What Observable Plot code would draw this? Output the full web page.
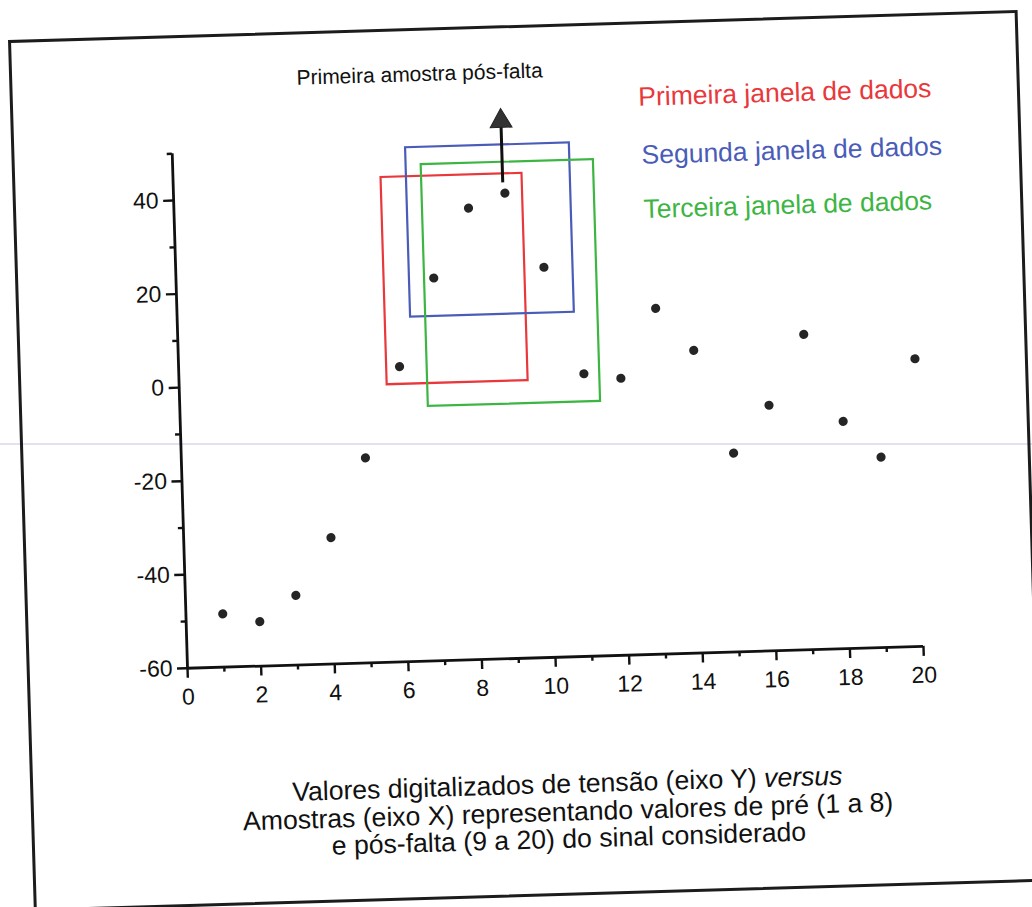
<!DOCTYPE html>
<html>
<head>
<meta charset="utf-8">
<script src="https://cdn.jsdelivr.net/npm/d3@7"></script>
<script src="https://cdn.jsdelivr.net/npm/@observablehq/plot@0.6"></script>
<style>
  html, body { margin: 0; padding: 0; background: #ffffff; }
  body { width: 1032px; height: 907px; overflow: hidden; position: relative; font-family: "Liberation Sans", Arial, sans-serif; }
  #scanline { position: absolute; left: 0; top: 443px; width: 1032px; height: 2px; background: #e2e0f2; }
  #frame { position: absolute; left: 8px; top: 40px; width: 1010px; height: 872px; box-sizing: border-box;
           border: 3px solid #1c1c1c; transform-origin: 0 0; transform: rotate(-1.7deg); }
  #chart { position: absolute; left: 0; top: 0; }
  #caption { position: absolute; left: 134px; top: 744px; width: 800px; text-align: center;
             font-size: 26.6px; line-height: 27.5px; color: #111; font-family: "Liberation Sans", Arial, sans-serif; }
</style>
</head>
<body>
<div id="scanline"></div>
<div id="frame">
  <div id="chart"></div>
  <div id="caption">
    Valores digitalizados de tensão (eixo Y) <i>versus</i><br>
    Amostras (eixo X) representando valores de pré (1 a 8)<br>
    e pós-falta (9 a 20) do sinal considerado
  </div>
</div>
<script>
// ---- data ----
const sampleNumbers = [1, 2, 3, 4, 5, 6, 7, 8, 9, 10, 11, 12, 13, 14, 15, 16, 17, 18, 19, 20];
const voltageValues = [-48.6, -50.5, -45.1, -33.0, -16.2, 3.1, 21.8, 36.5, 39.5, 23.4,
                       0.4, -0.8, 13.9, 4.7, -17.5, -7.5, 7.4, -11.4, -19.3, 1.5];

const xMajorTicks = [0, 2, 4, 6, 8, 10, 12, 14, 16, 18, 20];
const xMinorTicks = [1, 3, 5, 7, 9, 11, 13, 15, 17, 19];
const yMajorTicks = [-60, -40, -20, 0, 20, 40];
const yMinorTicks = [-50, -30, -10, 10, 30, 50];

// data windows (sample range and voltage range)
const windowNames  = ["Primeira janela de dados", "Segunda janela de dados", "Terceira janela de dados"];
const windowColors = ["#e8383c", "#4a5cb8", "#3db543"];
const windowX1 = [5.65, 6.34, 6.75];
const windowX2 = [9.48, 10.79, 11.43];
const windowY1 = [-0.7, 13.6, -5.6];
const windowY2 = [43.6, 49.8, 46.1];

// legend label anchors (data units)
const legendX = [12.70, 12.74, 12.75];
const legendY = [59.1, 46.7, 35.1];

// annotation: first post-fault sample
const annotationText = "Primeira amostra pós-falta";
const annotationX = [6.78];
const annotationY = [65.4];
const arrowX = [8.95];
const arrowY1 = [41.8];
const arrowY2 = [54.9];

// ---- tables ----
const samples = sampleNumbers.map((n, i) => ({x: n, y: voltageValues[i]}));
const windows = windowNames.map((name, i) => ({
  name, color: windowColors[i], x1: windowX1[i], x2: windowX2[i], y1: windowY1[i], y2: windowY2[i],
  lx: legendX[i], ly: legendY[i]
}));
const arrow = arrowX.map((x, i) => ({x, y1: arrowY1[i], y2: arrowY2[i]}));
const annotation = annotationX.map((x, i) => ({x, y: annotationY[i], text: annotationText}));

const W = 1004, H = 700;
const chart = Plot.plot({
  width: W,
  height: H,
  marginLeft: 157.3,
  marginRight: W - 893.6,
  marginTop: 115.1,
  marginBottom: H - 629.8,
  x: {domain: [0, 20], label: null},
  y: {domain: [-60, 50], label: null},
  style: {
    fontFamily: "'Liberation Sans', Arial, sans-serif",
    fontSize: "23px",
    color: "#111",
    background: "transparent",
    overflow: "visible"
  },
  marks: [
    Plot.axisX({ticks: xMajorTicks, tickSize: 10, tickPadding: 10, strokeWidth: 2.4, fontSize: 23,
                tickFormat: d => String(d)}),
    Plot.axisX({ticks: xMinorTicks, tickSize: 5, strokeWidth: 2.4, tickFormat: () => ""}),
    Plot.axisY({ticks: yMajorTicks, tickSize: 10, tickPadding: 5, strokeWidth: 2.4, fontSize: 23,
                tickFormat: d => String(d)}),
    Plot.axisY({ticks: yMinorTicks, tickSize: 5, strokeWidth: 2.4, tickFormat: () => ""}),
    Plot.ruleY([-60], {x1: 0, x2: 20, stroke: "#111", strokeWidth: 2.8}),
    Plot.ruleX([0], {y1: -60, y2: 50, stroke: "#111", strokeWidth: 2.8}),
    Plot.rect(windows, {x1: "x1", x2: "x2", y1: "y1", y2: "y2", fill: "none",
                        stroke: "color", strokeWidth: 2.2}),
    Plot.dot(samples, {x: "x", y: "y", r: 4.6, fill: "#252525", stroke: "none"}),
    Plot.link(arrow, {x1: "x", x2: "x", y1: "y1", y2: "y2", stroke: "#111", strokeWidth: 3}),
    Plot.dot(arrow, {x: "x", y: "y2", symbol: "triangle", r: 8.1, fill: "#333", stroke: "#222", strokeWidth: 1}),
    Plot.text(windows, {x: "lx", y: "ly", text: "name", fill: "color", textAnchor: "start",
                        fontSize: 26.5, clip: false}),
    Plot.text(annotation, {x: "x", y: "y", text: "text", fill: "#111", textAnchor: "middle",
                           fontSize: 21, clip: false})
  ]
});
document.getElementById("chart").appendChild(chart);
</script>
</body>
</html>
